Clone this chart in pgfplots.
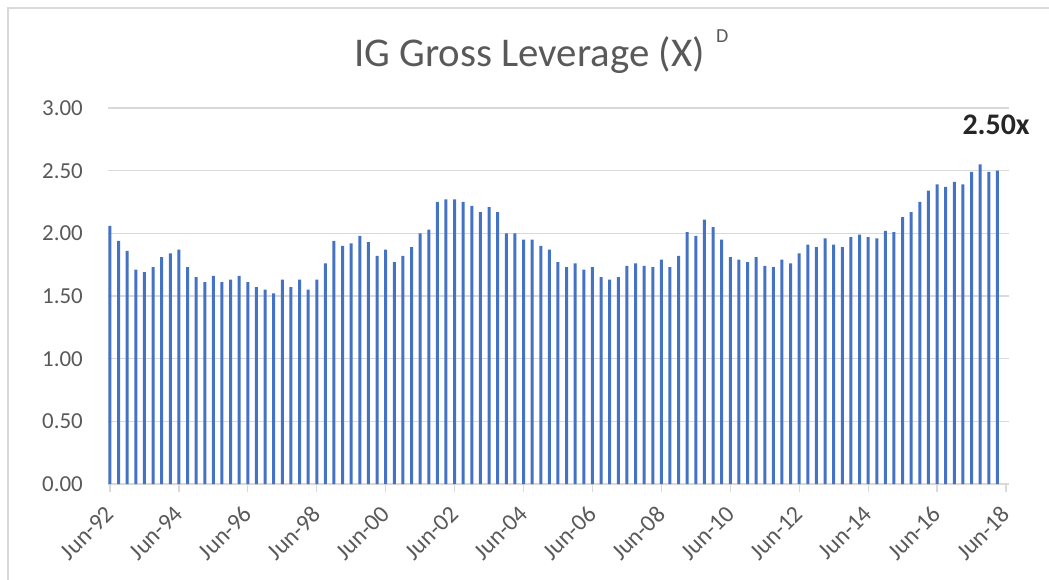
\documentclass[border=0pt]{standalone}
\usepackage{fontspec}
\setmainfont{Carlito}
\usepackage{pgfplots}
\usepackage{pgfplotstable}
\pgfplotsset{compat=1.18}
\definecolor{barblue}{HTML}{4472C4}
\definecolor{txtgray}{HTML}{595959}
\definecolor{gridgray}{HTML}{D9D9D9}
\pgfplotstableread{
idx val
0 2.06
1 1.94
2 1.86
3 1.71
4 1.69
5 1.73
6 1.81
7 1.84
8 1.87
9 1.73
10 1.65
11 1.61
12 1.66
13 1.61
14 1.63
15 1.66
16 1.61
17 1.57
18 1.55
19 1.52
20 1.63
21 1.57
22 1.63
23 1.55
24 1.63
25 1.76
26 1.94
27 1.90
28 1.92
29 1.98
30 1.93
31 1.82
32 1.87
33 1.77
34 1.82
35 1.89
36 2.00
37 2.03
38 2.25
39 2.27
40 2.27
41 2.25
42 2.22
43 2.17
44 2.21
45 2.17
46 2.00
47 2.00
48 1.95
49 1.95
50 1.90
51 1.87
52 1.77
53 1.73
54 1.76
55 1.71
56 1.73
57 1.65
58 1.63
59 1.65
60 1.74
61 1.76
62 1.74
63 1.73
64 1.79
65 1.73
66 1.82
67 2.01
68 1.98
69 2.11
70 2.05
71 1.95
72 1.81
73 1.79
74 1.77
75 1.81
76 1.74
77 1.73
78 1.79
79 1.76
80 1.84
81 1.91
82 1.89
83 1.96
84 1.91
85 1.89
86 1.97
87 1.99
88 1.97
89 1.96
90 2.02
91 2.01
92 2.13
93 2.17
94 2.25
95 2.34
96 2.39
97 2.37
98 2.41
99 2.39
100 2.49
101 2.55
102 2.49
103 2.50
}\datatable
\begin{document}
\begin{tikzpicture}
\useasboundingbox (0,0) rectangle (1049bp,580bp);
\draw[gridgray, line width=1.5bp] (8bp,0) -- (8bp,572bp) -- (1049bp,572bp);
\node[anchor=base west, inner sep=0pt, text=txtgray, font=\fontsize{41}{48}\selectfont] at (354bp,513bp) {IG Gross Leverage (X)};
\node[anchor=base west, inner sep=0pt, text=txtgray, font=\fontsize{20}{24}\selectfont] at (716bp,537bp) {D};
\begin{axis}[
  at={(108bp,96bp)}, anchor=south west,
  scale only axis, width=901bp, height=376bp,
  xmin=-0.23, xmax=104.35, ymin=0, ymax=3,
  ybar, bar width=3bp,
  axis x line*=bottom, axis y line*=left,
  x axis line style={gridgray, line width=1.5bp, -},
  y axis line style={draw=none, -},
  xtick={0,8,...,104},
  xticklabels={Jun-92,Jun-94,Jun-96,Jun-98,Jun-00,Jun-02,Jun-04,Jun-06,Jun-08,Jun-10,Jun-12,Jun-14,Jun-16,Jun-18},
  ytick={0,0.5,...,3},
  ymajorgrids, major grid style={gridgray, line width=1.5bp},
  tick align=outside, major tick length=8bp,
  xtick style={gridgray, line width=1.2bp},
  ytick style={draw=none},
  /pgf/number format/assume math mode=true,
  ticklabel style={font=\fontsize{23}{27}\selectfont, text=txtgray},
  yticklabel style={/pgf/number format/fixed, /pgf/number format/fixed zerofill, /pgf/number format/precision=2, anchor=east, inner sep=0pt, xshift=-17bp},
  xticklabel style={font=\fontsize{24}{28}\selectfont, anchor=east, inner sep=0pt, xshift=0bp, yshift=-18bp, rotate=45},
  clip=false,
]
\addplot[fill=barblue, draw=none] table[x=idx, y=val] {\datatable};
\node[anchor=base, inner sep=0pt, text=black!85, font=\bfseries\fontsize{30}{36}\selectfont] at (axis cs:102.85,2.785) {2.50x};
\end{axis}
\end{tikzpicture}
\end{document}
